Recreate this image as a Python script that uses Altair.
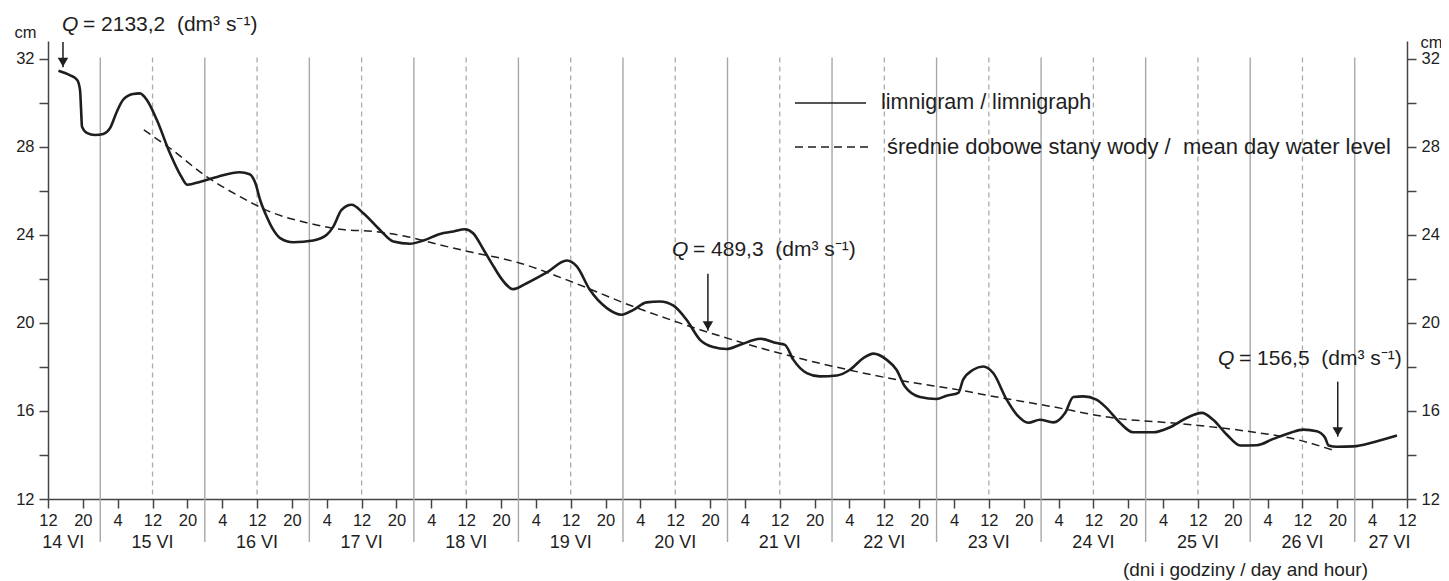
import altair as alt
import pandas as pd

# ---------------- data (hours counted from 14 VI 00:00) ----------------
limn_hours = [14.4, 17.0, 18.7, 19.35, 19.6, 19.8, 20.9, 22.8, 24.7, 26.2, 27.8, 29.2, 31.5, 33.1,
              34.7, 37.0, 40.0, 42.6, 44.0, 47.0, 51.0, 56.0, 58.3, 59.6, 60.7, 62.2, 63.5, 65.3,
              68.3, 72.9, 76.0, 77.5, 79.4, 81.7, 84.4, 88.2, 91.3, 95.1, 98.2, 102.0, 105.1,
              107.7, 109.6, 112.0, 114.3, 116.0, 118.8, 121.9, 126.5, 131.1, 133.4, 136.4, 140.3,
              143.7, 146.4, 149.4, 152.5, 155.6, 158.6, 161.7, 164.7, 167.8, 170.9, 175.5, 179.3,
              181.2, 183.1, 186.2, 189.2, 193.1, 196.1, 199.2, 201.5, 204.5, 206.8, 208.7, 212.2,
              216.0, 218.3, 221.0, 222.1, 224.4, 226.7, 229.0, 232.1, 234.4, 237.1, 239.7, 242.8,
              245.5, 247.4, 249.7, 252.7, 255.0, 258.1, 261.1, 265.7, 269.6, 273.4, 276.9, 279.5,
              282.6, 285.7, 289.5, 293.3, 297.1, 300.2, 303.3, 305.2, 306.0, 307.9, 311.7, 316.3,
              321.7]
limn_level = [31.45, 31.25, 31.03, 30.58, 29.67, 28.91, 28.63, 28.53, 28.58, 28.83, 29.59, 30.12,
              30.39, 30.42, 30.12, 29.21, 27.70, 26.64, 26.27, 26.41, 26.64, 26.84, 26.75, 26.35,
              25.58, 24.83, 24.30, 23.85, 23.66, 23.74, 24.00, 24.37, 25.13, 25.36, 24.98, 24.22,
              23.69, 23.59, 23.74, 24.04, 24.15, 24.25, 24.07, 23.32, 22.56, 22.03, 21.53, 21.80,
              22.29, 22.83, 22.56, 21.50, 20.67, 20.37, 20.59, 20.93, 20.97, 20.78, 20.14, 19.23,
              18.90, 18.81, 19.00, 19.28, 19.08, 19.00, 18.33, 17.72, 17.57, 17.61, 17.87, 18.40,
              18.60, 18.33, 17.87, 17.12, 16.63, 16.54, 16.69, 16.82, 17.42, 17.87, 18.02, 17.72,
              16.51, 15.83, 15.46, 15.60, 15.48, 15.91, 16.63, 16.66, 16.51, 16.14, 15.46, 15.03,
              15.03, 15.26, 15.68, 15.91, 15.60, 14.93, 14.43, 14.44, 14.73, 15.00, 15.15, 15.08,
              14.78, 14.43, 14.37, 14.39, 14.58, 14.88]

mean_hours = [34.0, 40.0, 48.4, 56.1, 63.8, 71.4, 79.0, 86.7, 94.3, 102.0, 109.6, 115.8, 120.4,
              131.1, 146.4, 161.7, 177.0, 192.3, 207.6, 222.9, 226.0, 241.3, 256.6, 271.9, 287.2,
              298.7, 307.1]
mean_level = [28.76, 27.93, 26.64, 25.73, 24.98, 24.55, 24.25, 24.15, 23.92, 23.54, 23.19, 22.94,
              22.71, 21.95, 20.74, 19.69, 18.78, 18.02, 17.39, 16.89, 16.77, 16.24, 15.68, 15.42,
              15.08, 14.70, 14.21]

day_names = ["14 VI", "15 VI", "16 VI", "17 VI", "18 VI", "19 VI", "20 VI", "21 VI", "22 VI",
             "23 VI", "24 VI", "25 VI", "26 VI", "27 VI"]
day_label_hours = [15.5, 36, 60, 84, 108, 132, 156, 180, 204, 228, 252, 276, 300, 320]
midnight_hours = [24, 48, 72, 96, 120, 144, 168, 192, 216, 240, 264, 288, 312]
noon_hours = [36, 60, 84, 108, 132, 156, 180, 204, 228, 252, 276, 300]
tick_hours = list(range(12, 325, 8))
y_ticks = [12, 14, 16, 18, 20, 22, 24, 26, 28, 30, 32]

legend_labels = ["limnigram / limnigraph",
                 "\u015brednie dobowe stany wody /\u00a0 mean day water level"]
q_values = ["2133,2", "489,3", "156,5"]
q_text_hours = [15.2, 155.25, 280.6]
q_text_level = [33.52, 23.32, 18.37]
arrow_hours = [15.44, 163.5, 308.1]
arrow_top = [32.75, 22.23, 17.33]
arrow_tip = [31.61, 19.64, 14.83]
axis_note = "(dni i godziny / day and hour)"

# ---------------- layout ----------------
W, H = 1359, 458
X_DOM = [12, 324]
Y_DOM = [12, 32.8]
FONT = "Liberation Sans"
INK = "#1e1e1e"
xs = alt.Scale(domain=X_DOM, nice=False, zero=False)
ys = alt.Scale(domain=Y_DOM, nice=False, zero=False)


def ypx(v):
    return H * (Y_DOM[1] - v) / (Y_DOM[1] - Y_DOM[0])


limn = pd.DataFrame({"h": limn_hours, "cm": limn_level})
mean = pd.DataFrame({"h": mean_hours, "cm": mean_level})
days = pd.DataFrame({"h": day_label_hours, "day": day_names})
mid = pd.DataFrame({"h": midnight_hours})
noon = pd.DataFrame({"h": noon_hours})
ann = pd.DataFrame({
    "th": q_text_hours, "tl": q_text_level,
    "rest": ["=\u00a0" + v + "\u00a0\u00a0(dm\u00b3 s\u207b\u00b9)" for v in q_values],
    "ah": arrow_hours, "atop": arrow_top, "atip": arrow_tip,
})

x_axis = alt.Axis(values=tick_hours, labelExpr="'' + (datum.value % 24)", tickSize=9,
                  tickColor="#444", domainColor="#444", tickWidth=1.5, domainWidth=1.5,
                  labelFontSize=16.5, labelPadding=4, grid=False, title=None,
                  labelFont=FONT, labelColor=INK, labelFlush=False, labelOverlap=False)


def X(field):
    return alt.X(field, scale=xs, axis=x_axis, title=None)


def y_axis(orient, tx, ty):
    return alt.Axis(orient=orient, values=y_ticks,
                    labelExpr="datum.value % 4 == 0 ? '' + datum.value : ''",
                    tickSize=9, tickColor="#444", domainColor="#444", tickWidth=1.5,
                    domainWidth=1.5, labelFontSize=16.5, labelPadding=5, grid=False,
                    labelFont=FONT, labelColor=INK, title="cm", titleAngle=0, titleX=tx,
                    titleY=ty, titleAlign="center", titleBaseline="middle",
                    titleFontWeight="normal", titleFontSize=16.5, titleFont=FONT,
                    titleColor=INK)


rules_mid = alt.Chart(mid).mark_rule(color="#a8a8a8", strokeWidth=1.4).encode(
    x=X("h:Q"), y=alt.value(ypx(32.05)), y2=alt.value(H + 43))
rules_noon = alt.Chart(noon).mark_rule(color="#ababab", strokeWidth=1.3,
                                        strokeDash=[5, 4]).encode(
    x=X("h:Q"), y=alt.value(ypx(32.05)), y2=alt.value(H))

line_limn = alt.Chart(limn).mark_line(color=INK, strokeWidth=2.6,
                                      interpolate="monotone").encode(
    x=X("h:Q"),
    y=alt.Y("cm:Q", scale=ys, axis=y_axis("left", -23, -9)))
line_mean = alt.Chart(mean).mark_line(color=INK, strokeWidth=1.5, strokeDash=[8, 5],
                                      interpolate="monotone").encode(
    x=X("h:Q"),
    y=alt.Y("cm:Q", scale=ys, axis=y_axis("right", 24, 1)))

day_text = alt.Chart(days).mark_text(fontSize=18, font=FONT, color=INK,
                                     baseline="middle").encode(
    x=X("h:Q"), y=alt.value(H + 44), text="day:N")

note = alt.Chart(pd.DataFrame({"t": [axis_note]})).mark_text(
    fontSize=19, font=FONT, color=INK, align="right", baseline="middle").encode(
    x=alt.value(1320), y=alt.value(H + 71), text="t:N")

q_italic = alt.Chart(ann).mark_text(text="Q", fontStyle="italic", fontSize=21, font=FONT,
                                    color=INK, align="left", baseline="middle").encode(
    x=X("th:Q"), y=alt.Y("tl:Q", scale=ys, axis=None))
q_rest = alt.Chart(ann).mark_text(fontSize=21, font=FONT, color=INK, align="left",
                                  baseline="middle", dx=21).encode(
    x=X("th:Q"), y=alt.Y("tl:Q", scale=ys, axis=None), text="rest:N")
stems = alt.Chart(ann).mark_rule(color=INK, strokeWidth=1.5).encode(
    x=X("ah:Q"), y=alt.Y("atop:Q", scale=ys, axis=None), y2="atip:Q")
heads = alt.Chart(ann).mark_point(shape="triangle-down", filled=True, size=110, color=INK,
                                  opacity=1, yOffset=-5).encode(
    x=X("ah:Q"), y=alt.Y("atip:Q", scale=ys, axis=None))

leg_df = pd.DataFrame({"label": legend_labels})
leg_solid = alt.Chart(leg_df.head(1)).mark_rule(color=INK, strokeWidth=1.6).encode(
    x=alt.value(747), x2=alt.value(818), y=alt.value(62))
leg_dash = alt.Chart(leg_df.tail(1)).mark_rule(color=INK, strokeWidth=1.5,
                                               strokeDash=[8, 5]).encode(
    x=alt.value(747), x2=alt.value(820), y=alt.value(106))
leg_text1 = alt.Chart(leg_df.head(1)).mark_text(fontSize=21.5, font=FONT, color=INK,
                                                align="left", baseline="middle").encode(
    x=alt.value(833), y=alt.value(62), text="label:N")
leg_text2 = alt.Chart(leg_df.tail(1)).mark_text(fontSize=22, font=FONT, color=INK,
                                                align="left", baseline="middle").encode(
    x=alt.value(839), y=alt.value(106), text="label:N")

chart = alt.layer(
    rules_mid, rules_noon, line_limn, line_mean, day_text, note, q_italic, q_rest, stems,
    heads, leg_solid, leg_dash, leg_text1, leg_text2
).resolve_axis(y="independent").properties(
    width=W, height=H,
    autosize=alt.AutoSizeParams(type="none"),
    padding={"left": 40, "top": 33, "right": 34, "bottom": 82},
    background="white",
).configure_view(stroke=None)

chart.save("out.html", embed_options={"renderer": "svg", "actions": False})
